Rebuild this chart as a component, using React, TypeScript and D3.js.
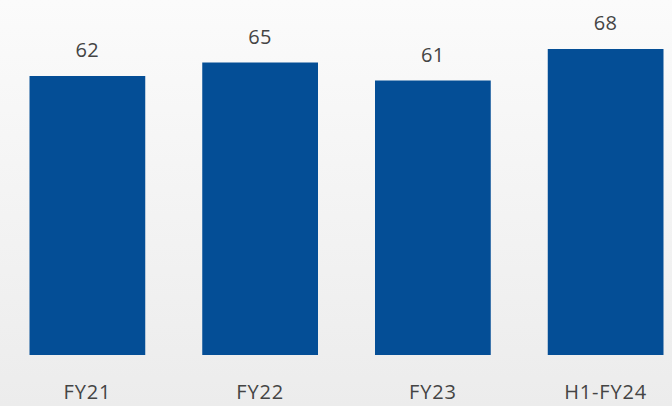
import React from "react";
import * as d3 from "d3";

const categories = ["FY21", "FY22", "FY23", "H1-FY24"];
const values = [62, 65, 61, 68];

const W = 672;
const H = 406;

export default function App() {
  const x = d3
    .scaleBand<string>()
    .domain(categories)
    .range([1, 692])
    .paddingInner(0.33)
    .paddingOuter(0.165);
  const y = d3.scaleLinear().domain([0, 68]).range([355, 49]);

  return (
    <svg
      width={W}
      height={H}
      style={{ position: "fixed", left: 0, top: 0, display: "block" }}
      fontFamily="'Open Sans', Lato, sans-serif"
    >
      <defs>
        <linearGradient id="bg" x1="0" y1="0" x2="0" y2="1">
          <stop offset="0" stopColor="#fbfbfb" />
          <stop offset="1" stopColor="#ececec" />
        </linearGradient>
      </defs>
      <rect x={0} y={0} width={W} height={H} fill="url(#bg)" />
      {categories.map((c, i) => (
        <g key={c}>
          <rect
            x={x(c)}
            y={y(values[i])}
            width={x.bandwidth()}
            height={y(0) - y(values[i])}
            fill="#044e96"
          />
          <text
            x={(x(c) as number) + x.bandwidth() / 2}
            y={y(values[i]) - 19}
            textAnchor="middle"
            fontSize={20}
            letterSpacing={0.5}
            fill="#444444"
          >
            {values[i]}
          </text>
          <text
            x={(x(c) as number) + x.bandwidth() / 2}
            y={399}
            textAnchor="middle"
            fontSize={20}
            letterSpacing={0.8}
            fill="#444444"
          >
            {c}
          </text>
        </g>
      ))}
    </svg>
  );
}
